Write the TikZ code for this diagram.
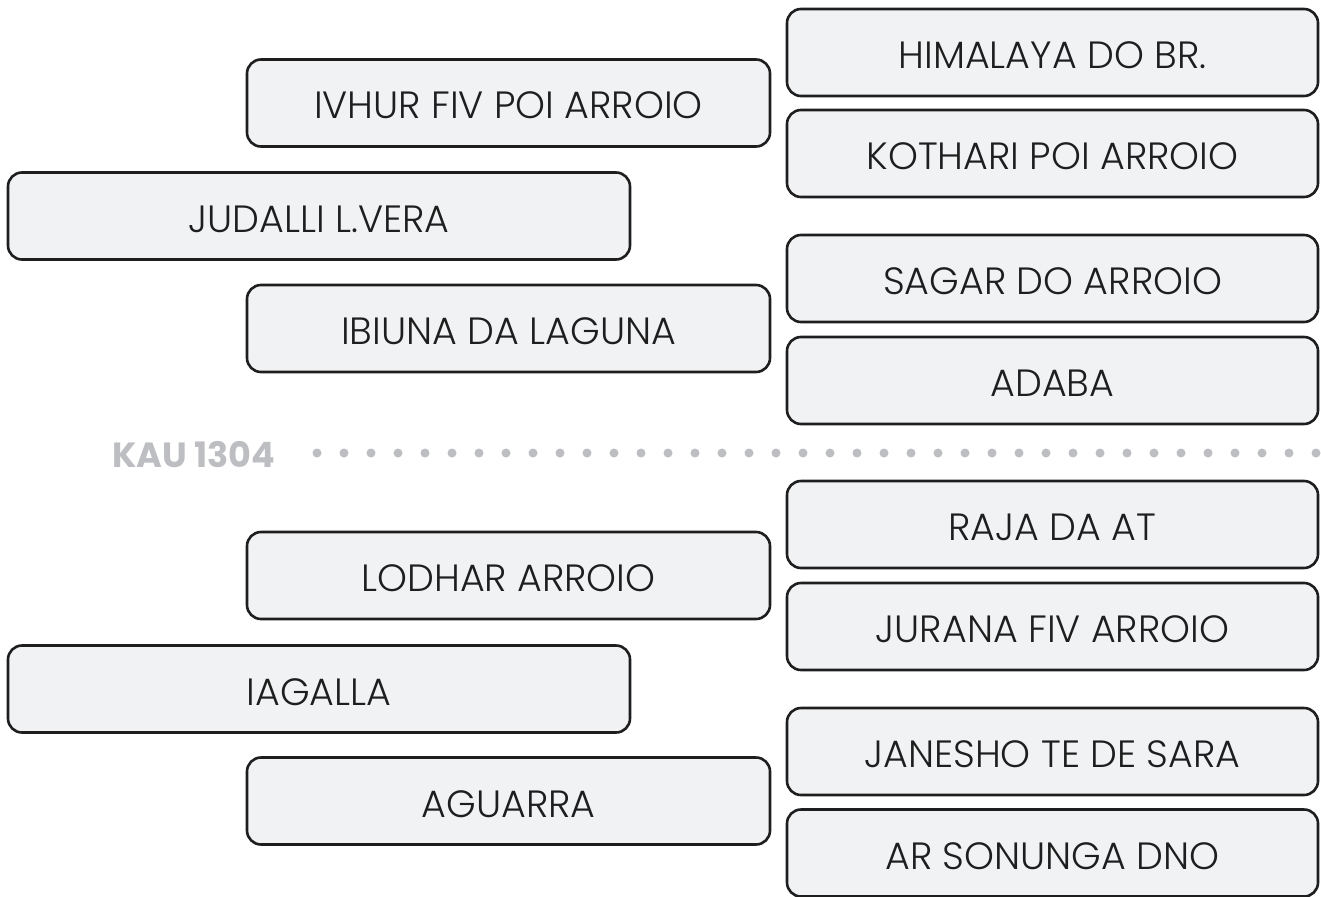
\documentclass[tikz,border=0pt]{standalone}
\usepackage{fontspec}
\setmainfont{Poppins Light}
\newfontfamily\labelfont{Poppins Bold}
\definecolor{boxfill}{HTML}{F1F2F4}
\definecolor{boxline}{HTML}{1E1E1E}
\definecolor{dotgray}{HTML}{BDBEC2}

\begin{document}
\begin{tikzpicture}[x=1pt, y=-1pt,
    entry/.style={draw=boxline, fill=boxfill, line width=2.6pt, rounded corners=14pt,
        minimum height=87pt, inner sep=0pt, text=boxline, text height=32pt, text depth=0pt,
        font=\fontsize{38}{44}\selectfont},
    rightbox/.style={entry, minimum width=531pt},
    midbox/.style={entry, minimum width=523pt},
    leftbox/.style={entry, minimum width=622pt}]
    \useasboundingbox (0,0) rectangle (1321,896);
    % upper half
    \node[rightbox] (himalaya) at (1052.5,52.5) {HIMALAYA DO BR.};
    \node[rightbox] (kothari) at (1052.5,153.5) {KOTHARI POI ARROIO};
    \node[rightbox] (sagar) at (1052.5,278.5) {SAGAR DO ARROIO};
    \node[rightbox] (adaba) at (1052.5,380.5) {ADABA};
    \node[midbox] (ivhur) at (508.5,103) {IVHUR FIV POI ARROIO};
    \node[midbox] (ibiuna) at (508.5,328.5) {IBIUNA DA LAGUNA};
    \node[leftbox] (judalli) at (319,216) {JUDALLI L.VERA};
    % divider
    \node[anchor=west, text=dotgray, inner sep=0pt,
        font=\labelfont\fontsize{35}{40}\selectfont] (kau) at (112,454.5) {KAU 1304};
    \foreach \i in {0,...,37}
        \fill[dotgray] (317+27*\i,453) circle (4.5pt);
    % lower half
    \node[rightbox] (raja) at (1052.5,524.5) {RAJA DA AT};
    \node[rightbox] (jurana) at (1052.5,626.5) {JURANA FIV ARROIO};
    \node[rightbox] (janesho) at (1052.5,751.5) {JANESHO TE DE SARA};
    \node[rightbox] (sonunga) at (1052.5,853) {AR SONUNGA DNO};
    \node[midbox] (lodhar) at (508.5,575.5) {LODHAR ARROIO};
    \node[midbox] (aguarra) at (508.5,801) {AGUARRA};
    \node[leftbox] (iagalla) at (319,689) {IAGALLA};
\end{tikzpicture}
\end{document}
